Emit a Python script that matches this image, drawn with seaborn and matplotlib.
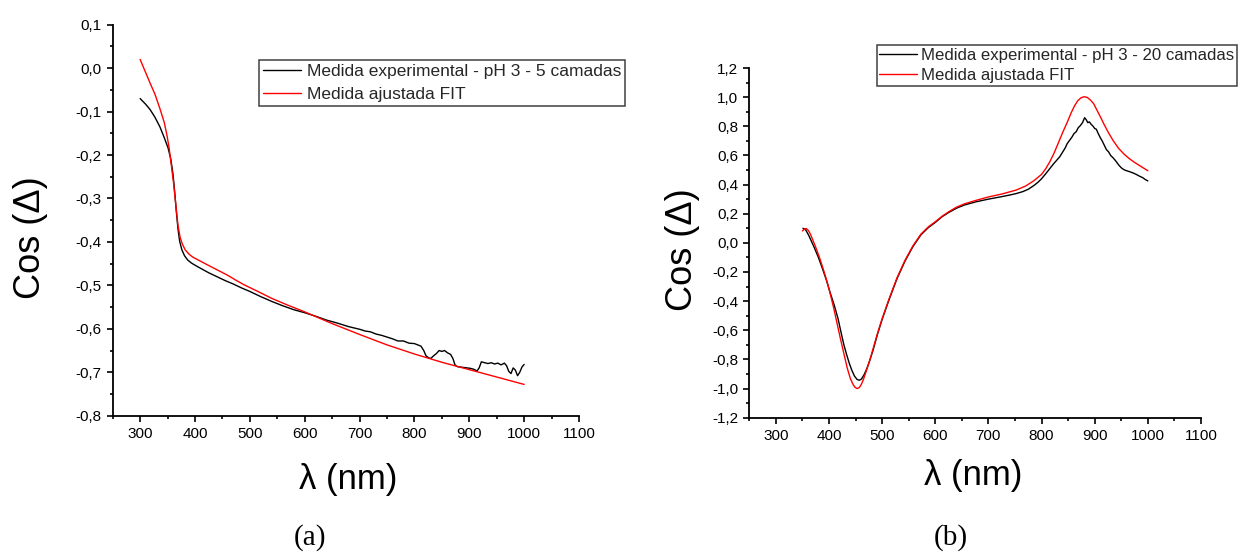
import matplotlib
matplotlib.use("Agg")
import matplotlib.pyplot as plt
from matplotlib.ticker import MultipleLocator, FuncFormatter
import seaborn as sns

# ---- panel (a): pH 3, 5 layers ----
lam_a_exp = [300, 310, 318, 327, 336, 344, 351, 356, 360, 363, 366, 369, 372, 376,
             381, 387, 394, 402, 412, 425, 440, 455, 470, 485, 500, 520, 540, 560,
             580, 600, 620, 640, 660, 680, 700, 710, 720, 730, 740, 750, 760, 770,
             780, 790, 800, 806, 812, 817, 821, 826, 830, 835, 840, 845, 850, 855,
             860, 866, 870, 874, 878, 884, 890, 896, 902, 908, 914, 918, 922, 928,
             934, 940, 946, 952, 958, 964, 968, 972, 976, 980, 984, 988, 992, 996, 1000]
cos_a_exp = [-0.070, -0.083, -0.095, -0.113, -0.135, -0.160, -0.184, -0.210, -0.245,
             -0.285, -0.330, -0.370, -0.398, -0.418, -0.432, -0.442, -0.449, -0.455,
             -0.462, -0.471, -0.480, -0.489, -0.497, -0.506, -0.514, -0.526, -0.537,
             -0.547, -0.556, -0.563, -0.571, -0.580, -0.587, -0.595, -0.601, -0.605,
             -0.607, -0.612, -0.615, -0.619, -0.623, -0.628, -0.628, -0.633, -0.634,
             -0.637, -0.640, -0.650, -0.662, -0.667, -0.668, -0.662, -0.657, -0.650,
             -0.652, -0.650, -0.655, -0.659, -0.668, -0.683, -0.687, -0.688, -0.689,
             -0.690, -0.691, -0.693, -0.697, -0.690, -0.676, -0.678, -0.680, -0.678,
             -0.681, -0.679, -0.683, -0.679, -0.685, -0.698, -0.703, -0.690, -0.695,
             -0.708, -0.700, -0.688, -0.682]

lam_a_fit = [300, 310, 318, 327, 336, 344, 349, 353, 357, 361, 365, 369, 373, 377,
             382, 389, 396, 405, 420, 440, 460, 473, 490, 513, 540, 570, 600, 650,
             700, 750, 800, 850, 900, 950, 1000]
cos_a_fit = [0.020, -0.010, -0.034, -0.060, -0.093, -0.125, -0.155, -0.185, -0.225,
             -0.265, -0.314, -0.362, -0.390, -0.405, -0.418, -0.428, -0.435, -0.441,
             -0.451, -0.464, -0.477, -0.487, -0.499, -0.513, -0.530, -0.546, -0.561,
             -0.588, -0.613, -0.637, -0.658, -0.677, -0.694, -0.711, -0.728]

# ---- panel (b): pH 3, 20 layers ----
lam_b_exp = [351, 356, 362, 367, 372, 380, 387, 395, 402, 410, 417, 423, 428, 433,
             438, 443, 448, 453, 457, 461, 466, 471, 476, 483, 491, 500, 513, 528,
             543, 558, 573, 587, 600, 613, 626, 640, 655, 677, 700, 722, 740, 752,
             765, 775, 785, 793, 800, 808, 816, 822, 828, 834, 840, 845, 848, 852,
             857, 861, 865, 869, 873, 877, 881, 884, 887, 890, 893, 897, 900, 903,
             906, 910, 914, 918, 922, 926, 930, 935, 940, 945, 950, 955, 960, 966,
             972, 978, 984, 990, 995, 1000]
cos_b_exp = [0.100, 0.090, 0.050, 0.010, -0.030, -0.100, -0.170, -0.255, -0.340,
             -0.430, -0.520, -0.620, -0.700, -0.765, -0.825, -0.875, -0.915, -0.938,
             -0.943, -0.935, -0.905, -0.865, -0.815, -0.735, -0.630, -0.525, -0.390,
             -0.245, -0.125, -0.025, 0.055, 0.105, 0.140, 0.180, 0.210, 0.238, 0.260,
             0.282, 0.300, 0.315, 0.328, 0.338, 0.352, 0.368, 0.392, 0.415, 0.440,
             0.475, 0.512, 0.540, 0.565, 0.590, 0.625, 0.655, 0.680, 0.700, 0.725,
             0.750, 0.762, 0.790, 0.805, 0.825, 0.859, 0.845, 0.825, 0.830, 0.815,
             0.800, 0.785, 0.780, 0.755, 0.725, 0.700, 0.670, 0.640, 0.625, 0.600,
             0.582, 0.560, 0.535, 0.515, 0.502, 0.495, 0.488, 0.480, 0.470, 0.458,
             0.448, 0.435, 0.425]

lam_b_fit = [350, 354, 357, 361, 365, 370, 375, 382, 390, 397, 403, 409, 415, 421,
             428, 434, 440, 445, 449, 453, 457, 461, 465, 471, 478, 485, 491, 500,
             513, 528, 543, 558, 573, 587, 600, 613, 626, 640, 655, 677, 700, 725,
             752, 770, 785, 800, 808, 816, 824, 832, 840, 848, 856, 862, 868, 874,
             880, 886, 892, 898, 905, 912, 918, 926, 935, 945, 955, 965, 975, 988, 1000]
cos_b_fit = [0.082, 0.095, 0.099, 0.085, 0.060, 0.015, -0.030, -0.100, -0.190,
             -0.275, -0.360, -0.450, -0.550, -0.650, -0.760, -0.855, -0.930, -0.970,
             -0.992, -1.000, -0.993, -0.970, -0.935, -0.870, -0.790, -0.700, -0.625,
             -0.520, -0.385, -0.240, -0.120, -0.020, 0.060, 0.110, 0.145, 0.183,
             0.215, 0.245, 0.268, 0.292, 0.315, 0.335, 0.362, 0.390, 0.425, 0.470,
             0.510, 0.560, 0.620, 0.690, 0.760, 0.825, 0.895, 0.940, 0.975, 0.995,
             1.003, 0.998, 0.980, 0.955, 0.905, 0.855, 0.810, 0.755, 0.700, 0.648,
             0.610, 0.578, 0.552, 0.522, 0.495]

legend_a = ["Medida experimental - pH 3 - 5 camadas", "Medida ajustada FIT"]
legend_b = ["Medida experimental - pH 3 - 20 camadas", "Medida ajustada FIT"]
x_label = "λ (nm)"
y_label = "Cos (Δ)"
panel_tags = ["(a)", "(b)"]

sns.set_theme(style="ticks")
plt.rcParams["font.family"] = ["Liberation Sans", "DejaVu Sans"]
plt.rcParams["axes.linewidth"] = 1.3

W, H = 1240, 552
fig = plt.figure(figsize=(W / 100, H / 100), dpi=100)
fig.patch.set_facecolor("white")


def px_axes(x0, y0, x1, y1):
    return fig.add_axes([x0 / W, 1 - y1 / H, (x1 - x0) / W, (y1 - y0) / H])


def comma_fmt(v, _pos):
    if abs(v) < 1e-9:
        v = 0.0
    return f"{v:.1f}".replace(".", ",")


def style_axes(ax, ylim, ymajor, yminor):
    ax.set_facecolor("white")
    ax.set_xlim(250, 1100)
    ax.set_ylim(*ylim)
    ax.xaxis.set_major_locator(MultipleLocator(100))
    ax.xaxis.set_minor_locator(MultipleLocator(50))
    ax.yaxis.set_major_locator(MultipleLocator(ymajor))
    ax.yaxis.set_minor_locator(MultipleLocator(yminor))
    ax.yaxis.set_major_formatter(FuncFormatter(comma_fmt))
    ax.xaxis.set_major_formatter(FuncFormatter(lambda v, p: f"{int(round(v))}"))
    ax.tick_params(which="major", direction="out", length=4.3, width=1.2,
                   labelsize=11, pad=3.5, colors="black")
    ax.tick_params(which="minor", direction="out", length=2.4, width=1.2, colors="black")
    for s in ["top", "right"]:
        ax.spines[s].set_visible(False)
    for s in ["left", "bottom"]:
        ax.spines[s].set_color("black")
        ax.spines[s].set_linewidth(1.3)
    ax.set_xlabel("")
    ax.set_ylabel("")
    ax.grid(False)


def add_legend(ax, labels, x0, y0, size, hlen, hpad, bpad, lspace):
    handles = list(ax.get_lines())[:2]
    leg = ax.legend(handles=handles, labels=labels, loc="upper left",
                    bbox_to_anchor=(x0 / W, 1 - y0 / H), bbox_transform=fig.transFigure,
                    borderaxespad=0, fontsize=size, frameon=True, fancybox=False,
                    framealpha=1, edgecolor="#404040", handlelength=hlen,
                    handletextpad=hpad, borderpad=bpad, labelspacing=lspace)
    leg.get_frame().set_linewidth(1.1)
    return leg


# panel (a)
ax_a = px_axes(112.7, 24.7, 579, 415.7)
sns.lineplot(x=lam_a_exp, y=cos_a_exp, ax=ax_a, color="black", linewidth=1.0)
sns.lineplot(x=lam_a_fit, y=cos_a_fit, ax=ax_a, color="red", linewidth=1.0)
style_axes(ax_a, (-0.8, 0.1), 0.1, 0.05)
add_legend(ax_a, legend_a, 258.7, 60, 12.5, 2.18, 0.35, 0.24, 0.45)

# panel (b)
ax_b = px_axes(749.3, 68, 1201, 417.7)
sns.lineplot(x=lam_b_exp, y=cos_b_exp, ax=ax_b, color="black", linewidth=1.0)
sns.lineplot(x=lam_b_fit, y=cos_b_fit, ax=ax_b, color="red", linewidth=1.0)
style_axes(ax_b, (-1.2, 1.2), 0.2, 0.1)
add_legend(ax_b, legend_b, 876.7, 45, 12.1, 2.26, 0.24, 0.16, 0.33)

# axis titles and panel tags
for cx, cy in [(30, 238), (682, 250)]:
    fig.text(cx / W, 1 - cy / H, y_label, rotation=90, ha="center", va="center",
             fontsize=26, color="black")
for cx, cy in [(348, 480), (973, 475)]:
    fig.text(cx / W, 1 - cy / H, x_label, ha="center", va="center",
             fontsize=25, color="black")
for cx, tag in zip([310, 951], panel_tags):
    fig.text(cx / W, 1 - 538 / H, tag, ha="center", va="center", fontsize=21,
             family=["Liberation Serif", "DejaVu Serif"], color="black")

fig.savefig("out.png", dpi=100, facecolor="white")
